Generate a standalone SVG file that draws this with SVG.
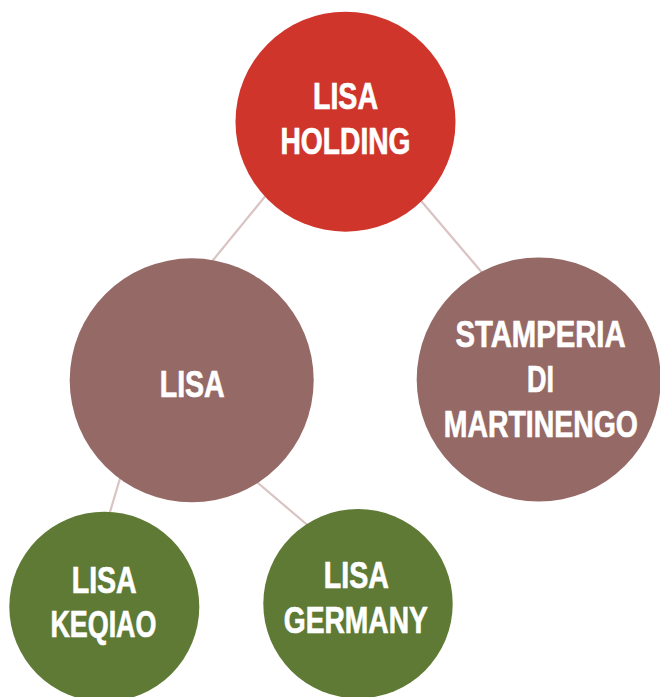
<svg xmlns="http://www.w3.org/2000/svg" width="660" height="697" viewBox="0 0 660 697">
<style>
.red{fill:#D0352B}
.mauve{fill:#956966}
.green{fill:#5E7A35}
.lbl{fill:#FFFFFF;stroke:#FFFFFF;stroke-width:0.7px;font-family:"Liberation Sans",Arial,sans-serif;font-weight:bold;font-size:36.5px;text-anchor:middle}
.conn line{stroke:#D9C3C3;stroke-width:2.2;fill:none}
</style>
<rect width="660" height="697" fill="#FFFFFF"/>
<g id="connectors" class="conn">
<line x1="280" y1="178" x2="205" y2="270"/>
<line x1="405" y1="182" x2="490" y2="282"/>
<line x1="124" y1="465" x2="107" y2="522"/>
<line x1="245" y1="472" x2="318" y2="534"/>
</g>
<g id="lisa-holding">
<circle class="red" cx="345.5" cy="121.7" r="110"/>
<text class="lbl" transform="translate(345.5,109) scale(0.8,1)" textLength="81.25" lengthAdjust="spacingAndGlyphs">LISA</text>
<text class="lbl" transform="translate(345.5,154) scale(0.8,1)" textLength="162.5" lengthAdjust="spacingAndGlyphs">HOLDING</text>
</g>
<g id="lisa">
<circle class="mauve" cx="191.7" cy="380.3" r="122"/>
<text class="lbl" transform="translate(192.2,396.5) scale(0.8,1)" textLength="81.25" lengthAdjust="spacingAndGlyphs">LISA</text>
</g>
<g id="stamperia">
<circle class="mauve" cx="538.7" cy="379.5" r="122"/>
<text class="lbl" transform="translate(540.5,346.5) scale(0.8,1)" textLength="212.5" lengthAdjust="spacingAndGlyphs">STAMPERIA</text>
<text class="lbl" transform="translate(540.4,391.5) scale(0.8,1)" textLength="33.75" lengthAdjust="spacingAndGlyphs">DI</text>
<text class="lbl" transform="translate(540.8,436.5) scale(0.8,1)" textLength="242.5" lengthAdjust="spacingAndGlyphs">MARTINENGO</text>
</g>
<g id="lisa-keqiao">
<circle class="green" cx="104.3" cy="606.7" r="95"/>
<text class="lbl" transform="translate(104.2,593) scale(0.8,1)" textLength="81.25" lengthAdjust="spacingAndGlyphs">LISA</text>
<text class="lbl" transform="translate(103.4,637) scale(0.8,1)" textLength="132.5" lengthAdjust="spacingAndGlyphs">KEQIAO</text>
</g>
<g id="lisa-germany">
<circle class="green" cx="358" cy="603.7" r="94.7"/>
<text class="lbl" transform="translate(356.3,588.3) scale(0.8,1)" textLength="81.25" lengthAdjust="spacingAndGlyphs">LISA</text>
<text class="lbl" transform="translate(355.8,632.5) scale(0.8,1)" textLength="180" lengthAdjust="spacingAndGlyphs">GERMANY</text>
</g>
</svg>
